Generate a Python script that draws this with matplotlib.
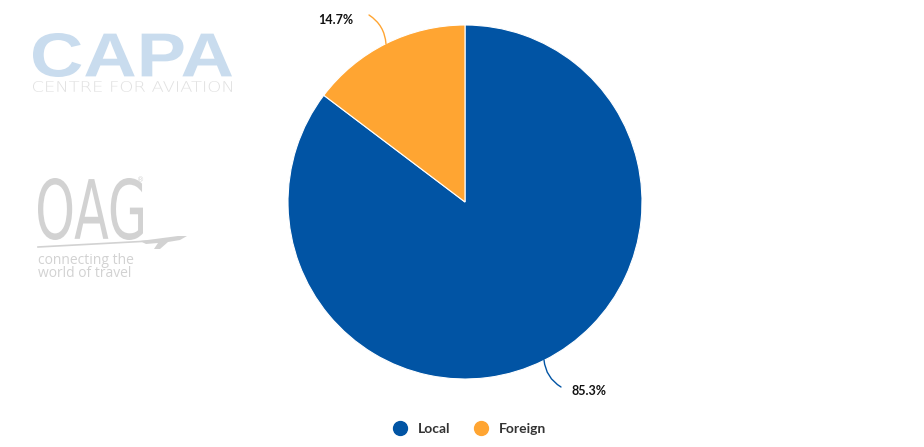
import matplotlib.pyplot as plt
from matplotlib.lines import Line2D
from matplotlib.textpath import TextPath
from matplotlib.patches import PathPatch, Polygon, FancyArrowPatch
from matplotlib.font_manager import FontProperties
from matplotlib.transforms import Affine2D

categories = ["Local", "Foreign"]
shares = [85.3, 14.7]
colors = ["#0154a4", "#ffa532"]

W, H = 924, 447
fig = plt.figure(figsize=(W / 100, H / 100), dpi=100)
ax = fig.add_axes([0, 0, 1, 1])

wedges, _ = ax.pie(shares, colors=colors, startangle=90, counterclock=False,
                   center=(465, 245), radius=177, frame=True,
                   wedgeprops=dict(linewidth=0.8, edgecolor="white"))
ax.set_xlim(0, W)
ax.set_ylim(0, H)
ax.set_aspect("equal")
ax.axis("off")


def fit_text(s, x0, x1, y0, y1, color, **fp):
    # draw text as a path stretched into a pixel box (top-left origin)
    tp = TextPath((0, 0), s, size=50, prop=FontProperties(**fp))
    bb = tp.get_extents()
    tr = (Affine2D().translate(-bb.x0, -bb.y0)
          .scale((x1 - x0) / bb.width, (y1 - y0) / bb.height)
          .translate(x0, H - y1))
    ax.add_patch(PathPatch(tr.transform_path(tp), facecolor=color, edgecolor="none"))


# watermark logos
fit_text("CAPA", 33, 232, 33, 77, "#c9dcee", family="Liberation Sans", weight="bold")
fit_text("CENTRE FOR AVIATION", 33, 232, 81, 92, "#e0e0e0", family="DejaVu Sans",
         weight="light")
fit_text("OAG", 38, 143, 178, 240, "#d2d2d2", family="Liberation Sans Narrow")
ax.text(141, H - 180, "®", fontsize=5, color="#d2d2d2", ha="center", va="center")
ax.plot([38, 150], [H - 247, H - 241], color="#d2d2d2", lw=1.2)
ax.add_patch(Polygon([(140, H - 241), (178, H - 236), (187, H - 236), (180, H - 240),
                      (168, H - 242), (160, H - 249), (154, H - 249), (158, H - 243),
                      (146, H - 244)], closed=True, facecolor="#d2d2d2", edgecolor="none"))
ax.text(38, H - 267, "connecting the\nworld of travel", ha="left", va="center",
        fontsize=10, linespacing=0.85, color="#d2d2d2", family="Open Sans")

# data labels with curved leader lines
lab_font = dict(fontsize=9, fontweight="bold", color="#111111", family="Lato")
ax.add_patch(FancyArrowPatch((386, H - 44), (369, H - 15), arrowstyle="-",
                             connectionstyle="arc3,rad=0.25", color=colors[1], lw=1,
                             shrinkA=0, shrinkB=0))
ax.text(353, H - 20, f"{shares[1]}%", ha="right", va="center", **lab_font)
ax.add_patch(FancyArrowPatch((544, H - 360), (561, H - 387), arrowstyle="-",
                             connectionstyle="arc3,rad=0.25", color=colors[0], lw=1,
                             shrinkA=0, shrinkB=0))
ax.text(572, H - 391, f"{shares[0]}%", ha="left", va="center", **lab_font)

handles = [Line2D([], [], marker="o", linestyle="", markersize=10, markerfacecolor=c,
                  markeredgecolor=c) for c in colors]
leg = fig.legend(handles, categories, loc="center", bbox_to_anchor=(466 / W, 1 - 429 / H),
                 ncol=2, frameon=False, handletextpad=0.3, columnspacing=1.2,
                 prop=dict(family="Lato", weight="bold", size=10))
for t in leg.get_texts():
    t.set_color("#333333")

fig.savefig("out.png", dpi=100)
